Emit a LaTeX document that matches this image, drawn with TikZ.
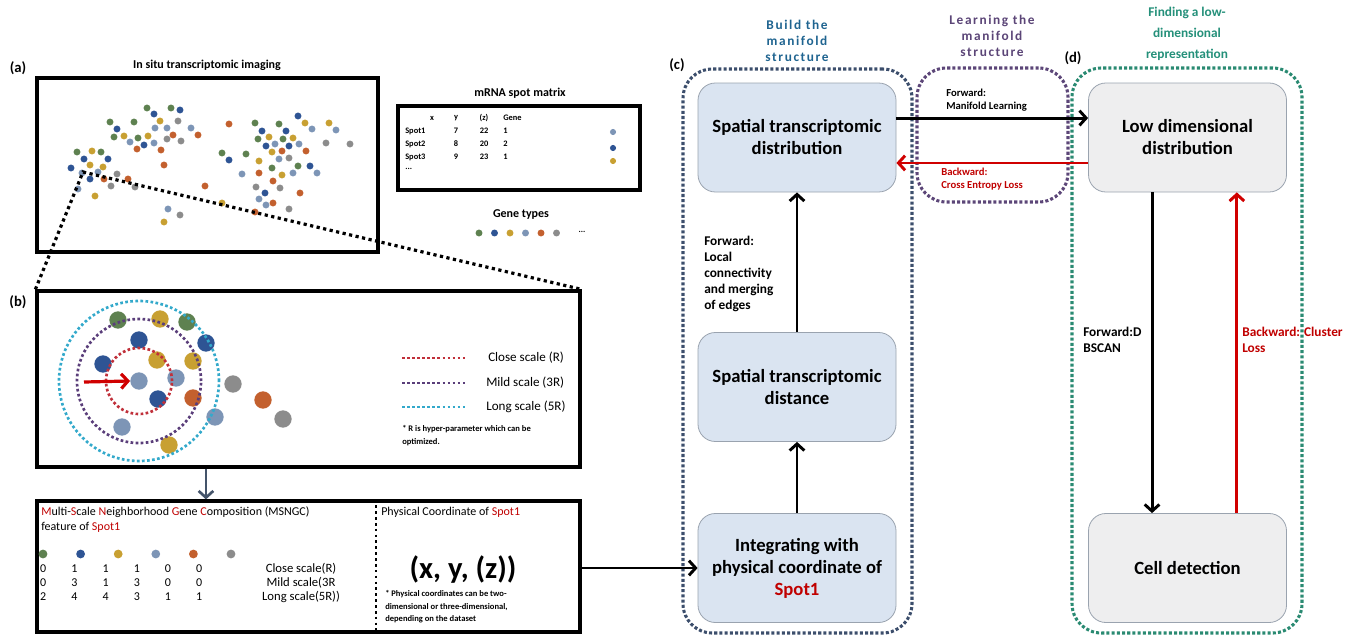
\documentclass[tikz,border=0pt]{standalone}
\usepackage{fontspec}
\setmainfont{Carlito}
\newfontfamily\espaciada[LetterSpace=12]{Carlito}
\usetikzlibrary{arrows.meta}

% colores de los genes
\definecolor{genVerde}{HTML}{5E8150}
\definecolor{genAzul}{HTML}{2E5494}
\definecolor{genOro}{HTML}{C8A032}
\definecolor{genPizarra}{HTML}{7D95B6}
\definecolor{genNaranja}{HTML}{C3602E}
\definecolor{genGris}{HTML}{8C8C8C}
% resto de colores
\definecolor{rojoTexto}{HTML}{C00000}
\definecolor{rojoFlecha}{HTML}{D00000}
\definecolor{escCerca}{HTML}{C0303A}
\definecolor{escMedia}{HTML}{5A3E7A}
\definecolor{escLarga}{HTML}{33A9CB}
\definecolor{grisFlecha}{HTML}{44546A}
\definecolor{cajaAzulFondo}{HTML}{DAE4F1}
\definecolor{cajaGrisFondo}{HTML}{EEEEEF}
\definecolor{cajaBorde}{HTML}{9AA3AF}
\definecolor{grupoAzul}{HTML}{3C4E6C}
\definecolor{grupoMorado}{HTML}{5C4678}
\definecolor{grupoVerde}{HTML}{2A8A72}
\definecolor{titAzul}{HTML}{1F6490}
\definecolor{titMorado}{HTML}{5B4577}
\definecolor{titVerde}{HTML}{25907A}

\begin{document}
\begin{tikzpicture}[x=0.75pt, y=-0.75pt,
    marco/.style={draw=black, line width=2.4pt, inner sep=0pt},
    grupo/.style={draw=#1, line width=2.3pt, dash pattern=on 2.3pt off 1.6pt, rounded corners=22pt, inner sep=0pt},
    bloque/.style={draw=cajaBorde, fill=cajaAzulFondo, line width=0.6pt, rounded corners=13pt,
        minimum width=148.5pt, minimum height=81.75pt, align=center,
        font=\fontsize{14}{16.5}\selectfont\bfseries},
    bloqueGris/.style={bloque, fill=cajaGrisFondo},
    linea/.style={line width=2.2pt, -{Straight Barb[length=5pt, width=11pt]}},
    lineaRoja/.style={linea, draw=rojoFlecha},
    zoomlinea/.style={line width=2.4pt, dash pattern=on 2.4pt off 2.6pt},
    escala/.style={draw=#1, line width=2pt, dash pattern=on 2pt off 1.8pt},
    gen/.style={circle, fill=#1, inner sep=0pt, minimum size=13pt},
    panelTit/.style={inner sep=0pt, font=\fontsize{11}{13}\selectfont\bfseries},
    titulo/.style={inner sep=0pt, font=\fontsize{9}{11}\selectfont\bfseries},
    tabla/.style={inner sep=0pt, font=\fontsize{6.3}{7.5}\selectfont\bfseries},
    leyenda/.style={inner sep=0pt, anchor=west, font=\fontsize{9.8}{12}\selectfont},
    nota/.style={inner sep=0pt, anchor=north west, align=left, font=\fontsize{6.4}{9.5}\selectfont\bfseries},
    rotulo/.style={inner sep=0pt, anchor=north west, align=left, font=\fontsize{10}{12}\selectfont\bfseries},
    rotuloChico/.style={inner sep=0pt, anchor=north west, align=left, font=\fontsize{8}{9.75}\selectfont\bfseries},
    encabezado/.style={inner sep=0pt, align=center, text=#1, font=\fontsize{10}{12}\selectfont\espaciada\bfseries}
]
    \useasboundingbox (0,0) rectangle (1358,635);

    % --- (a) IMAGEN IN SITU ---
    \node[panelTit] (etqA) at (18,68) {(a)};
    \node[titulo] (titA) at (207,65) {In situ transcriptomic imaging};
    \node[marco, minimum width=255.75pt, minimum height=130.5pt] (panelA) at (207.5,165) {};

    \foreach \x/\y in {147/108, 171/108, 110/122, 134/122, 114/137, 138/138, 77/152, 101/152,
        255/123, 279/124, 258/139, 283/139, 222/153, 246/154, 298/166, 272/168}
        \fill[genVerde] (\x,\y) circle (2.6pt);
    \foreach \x/\y in {180/110, 154/114, 117/129, 144/145, 84/159, 108/159, 71/168, 90/179,
        298/116, 262/131, 286/131, 266/146, 289/146, 229/160, 310/166, 265/193}
        \fill[genAzul] (\x,\y) circle (2.6pt);
    \foreach \x/\y in {160/121, 124/136, 148/136, 92/151, 90/165, 103/167, 95/196, 164/222, 222/203,
        305/123, 329/123, 269/137, 293/138, 272/152, 259/161, 282/175}
        \fill[genOro] (\x,\y) circle (2.6pt);
    \foreach \x/\y in {155/128, 167/128, 191/128, 130/142, 154/143, 82/173, 98/172, 78/189, 168/209,
        312/129, 336/130, 275/144, 299/144, 279/159, 242/174, 293/173, 317/173, 259/199, 266/205}
        \fill[genPizarra] (\x,\y) circle (2.6pt);
    \foreach \x/\y in {173/135, 198/135, 137/149, 161/150, 164/165, 104/179, 128/179, 205/186,
        229/124, 282/151, 306/151, 259/173, 273/181, 300/193, 273/203, 255/212}
        \fill[genNaranja] (\x,\y) circle (2.6pt);
    \foreach \x/\y in {178/121, 167/139, 181/141, 117/174, 111/186, 135/187, 180/215,
        326/143, 350/144, 289/158, 256/187, 280/188, 289/209}
        \fill[genGris] (\x,\y) circle (2.6pt);
    \coordinate (zoomA) at (83,172);

    % --- (a) MATRIZ DE PUNTOS ---
    \node[titulo] (titM) at (520,93) {mRNA spot matrix};
    \node[marco, minimum width=181.5pt, minimum height=63pt] (matriz) at (519,148) {};
    \node[tabla] (colX) at (432,118) {x};
    \node[tabla] (colY) at (456,118) {y};
    \node[tabla] (colZ) at (484,118) {(z)};
    \node[tabla, anchor=west] (colGen) at (503,118) {Gene};
    \foreach \f/\yy/\a/\b/\c in {1/131/7/22/1, 2/144/8/20/2, 3/157/9/23/1} {
        \node[tabla, anchor=west] (spot\f) at (405,\yy) {Spot\f};
        \node[tabla] (vy\f) at (456,\yy) {\a};
        \node[tabla] (vz\f) at (484,\yy) {\b};
        \node[tabla, anchor=west] (vg\f) at (503,\yy) {\c};
    }
    \node[tabla, anchor=west] (masFilas) at (405,169) {...};
    \fill[genPizarra] (613,132) circle (2.3pt);
    \fill[genAzul] (613,148) circle (2.3pt);
    \fill[genOro] (613,161) circle (2.3pt);

    % --- (a) TIPOS DE GEN ---
    \node[titulo] (titGen) at (521,215) {Gene types};
    \foreach \c [count=\i] in {genVerde, genAzul, genOro, genPizarra, genNaranja, genGris}
        \fill[\c] (463.5+15.5*\i,233) circle (2.6pt);
    \node[tabla] (masGen) at (582,232) {...};

    % --- (b) VECINDARIO MULTIESCALA ---
    \node[panelTit] (etqB) at (18,302) {(b)};
    \node[marco, minimum width=407.25pt, minimum height=132pt] (panelB) at (308.5,379) {};
    \draw[zoomlinea] (panelB.north west) -- (zoomA) -- (panelB.north east);

    \foreach \x/\y in {118/320, 187/322} \fill[genVerde] (\x,\y) circle (6.5pt);
    \foreach \x/\y in {206/343, 139/340, 103/364, 158/399} \fill[genAzul] (\x,\y) circle (6.5pt);
    \foreach \x/\y in {160/319, 157/360, 193/361, 169/445} \fill[genOro] (\x,\y) circle (6.5pt);
    \foreach \x/\y in {176/378, 215/417, 122/427} \fill[genPizarra] (\x,\y) circle (6.5pt);
    \foreach \x/\y in {193/398, 263/400} \fill[genNaranja] (\x,\y) circle (6.5pt);
    \foreach \x/\y in {233/384, 283/419} \fill[genGris] (\x,\y) circle (6.5pt);
    \node[gen=genPizarra] (spotUno) at (139,381) {};

    \draw[escala=escCerca] (spotUno) circle (24.75pt);
    \draw[escala=escMedia] (spotUno) circle (46.5pt);
    \draw[escala=escLarga] (spotUno) circle (60pt);
    \coordinate (inicioFlecha) at (84,382);
    \draw[lineaRoja, line width=2.4pt] (inicioFlecha) -- (spotUno.west);

    % leyenda de escalas
    \draw[escala=escCerca] (402,358) -- (467,358);
    \draw[escala=escMedia] (402,383) -- (467,383);
    \draw[escala=escLarga] (402,407) -- (467,407);
    \node[leyenda] (leyCerca) at (488,358) {Close scale (R)};
    \node[leyenda] (leyMedia) at (486,383) {Mild scale (3R)};
    \node[leyenda] (leyLarga) at (486,407) {Long scale (5R)};
    \node[nota] (notaR) at (402,425) {* R is hyper-parameter which can be\\optimized.};

    % --- MSNGC Y COORDENADA FISICA ---
    \node[marco, minimum width=407.25pt, minimum height=98.25pt] (panelMS) at (308.5,566.5) {};
    \draw[line width=2pt, draw=grisFlecha, -{Straight Barb[length=5pt, width=11pt]}]
        ([xshift=-76.9pt]panelB.south) -- ([xshift=-76.9pt]panelMS.north);
    \draw[zoomlinea, line width=2pt, dash pattern=on 2pt off 2.4pt]
        ([xshift=50.6pt]panelMS.north) -- ([xshift=50.6pt]panelMS.south);

    \node[inner sep=0pt, anchor=west, font=\fontsize{9}{11}\selectfont] (msTit) at (41,512)
        {\textcolor{rojoTexto}{M}ulti-\textcolor{rojoTexto}{S}cale \textcolor{rojoTexto}{N}eighborhood
         \textcolor{rojoTexto}{G}ene \textcolor{rojoTexto}{C}omposition (MSNGC)};
    \node[inner sep=0pt, anchor=west, font=\fontsize{9}{11}\selectfont] (msTit2) at (41,527)
        {feature of \textcolor{rojoTexto}{Spot1}};
    \foreach \c [count=\i] in {genVerde, genAzul, genOro, genPizarra, genNaranja, genGris}
        \fill[\c] (5.4+37.6*\i,554) circle (3.3pt);
    \foreach \yy/\lista [count=\f] in {569/{0,1,1,1,0,0}, 583/{0,3,1,3,0,0}, 597/{2,4,4,3,1,1}}
        \foreach \v [count=\c] in \lista
            \node[inner sep=0pt, font=\fontsize{9}{11}\selectfont] (n\f\c) at (12+31.2*\c,\yy) {\v};
    \node[inner sep=0pt, font=\fontsize{9.5}{11}\selectfont] (escR) at (301,569) {Close scale(R)};
    \node[inner sep=0pt, font=\fontsize{9.5}{11}\selectfont] (esc3R) at (301,583) {Mild scale(3R};
    \node[inner sep=0pt, font=\fontsize{9.5}{11}\selectfont] (esc5R) at (301,597) {Long scale(5R))};

    \node[inner sep=0pt, anchor=west, font=\fontsize{9}{11}\selectfont] (fisTit) at (381,512)
        {Physical Coordinate of \textcolor{rojoTexto}{Spot1}};
    \node[inner sep=0pt, font=\fontsize{23}{27}\selectfont\bfseries] (coord) at (463,570) {(x, y, (z))};
    \node[nota] (fisNota) at (385,590) {* Physical coordinates can be two-\\dimensional or three-dimensional,\\depending on the dataset};

    % --- (c) Y (d): GRUPOS PUNTEADOS ---
    \node[grupo=grupoAzul, minimum width=171.75pt, minimum height=423pt] (grupoC) at (797.5,351) {};
    \node[grupo=grupoMorado, minimum width=113.25pt, minimum height=100.5pt] (grupoL) at (992.5,135) {};
    \node[grupo=grupoVerde, minimum width=172.5pt, minimum height=423.75pt] (grupoD) at (1187,350.5) {};

    \node[encabezado=titAzul] (encC) at (797,41) {Build the\\manifold\\structure};
    \node[encabezado=titMorado] (encL) at (992,36) {Learning the\\manifold\\structure};
    \node[encabezado=titVerde, font=\fontsize{10}{15.75}\selectfont\bfseries] (encD) at (1187,34)
        {Finding a low-\\dimensional\\representation};
    \node[panelTit] (etqC) at (677,65) {(c)};
    \node[panelTit] (etqD) at (1073,58) {(d)};

    % --- BLOQUES ---
    \node[bloque] (distST) at (797,137.5) {Spatial transcriptomic\\distribution};
    \node[bloque] (distanciaST) at (797,387) {Spatial transcriptomic\\distance};
    \node[bloque] (integra) at (797,568) {Integrating with\\physical coordinate of\\\textcolor{rojoTexto}{Spot1}};
    \node[bloqueGris] (bajaDim) at (1187.5,137.5) {Low dimensional\\distribution};
    \node[bloqueGris] (celulas) at (1187.5,568) {Cell detection};

    % --- FLECHAS ---
    \draw[linea] (panelMS.east |- integra) -- (integra.west);
    \draw[linea] (integra) -- (distanciaST);
    \draw[linea] (distanciaST) -- (distST);
    \draw[linea] ([yshift=14.6pt]distST.east) -- ([yshift=14.6pt]bajaDim.west);
    \draw[lineaRoja] ([yshift=-19.1pt]bajaDim.west) -- ([yshift=-19.1pt]distST.east);
    \draw[linea] ([xshift=-26.6pt]bajaDim.south) -- ([xshift=-26.6pt]celulas.north);
    \draw[lineaRoja] ([xshift=37pt]celulas.north) -- ([xshift=37pt]bajaDim.south);

    \node[rotulo] (lblLocal) at (704,236) {Forward:\\Local\\connectivity\\and merging\\of edges};
    \node[rotuloChico] (lblML) at (946,89) {Forward:\\Manifold Learning};
    \node[rotuloChico, text=rojoTexto] (lblCE) at (941,168) {Backward:\\Cross Entropy Loss};
    \node[rotulo] (lblDB) at (1083,327) {Forward:D\\BSCAN};
    \node[rotulo, text=rojoTexto] (lblCL) at (1242,327) {Backward: Cluster\\Loss};
\end{tikzpicture}
\end{document}
